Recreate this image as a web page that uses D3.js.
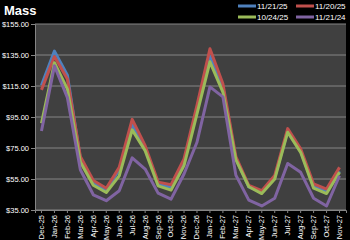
<!DOCTYPE html>
<html>
<head>
<meta charset="utf-8">
<script src="https://cdn.jsdelivr.net/npm/d3@7"></script>
<style>
  html, body { margin: 0; padding: 0; background: #000; }
  svg { display: block; font-family: "Liberation Sans", Arial, sans-serif; }
</style>
</head>
<body>
<div id="chart"></div>
<script>
// ====== Mass price chart ======

const months = ['Dec-25', 'Jan-26', 'Feb-26', 'Mar-26', 'Apr-26', 'May-26', 'Jun-26', 'Jul-26',
  'Aug-26', 'Sep-26', 'Oct-26', 'Nov-26', 'Dec-26', 'Jan-27', 'Feb-27', 'Mar-27', 'Apr-27',
  'May-27', 'Jun-27', 'Jul-27', 'Aug-27', 'Sep-27', 'Oct-27', 'Nov-27'];

const seriesNames = ['11/21/25', '11/20/25', '10/24/25', '11/21/24'];
const seriesColors = ['#4f81bd', '#c0504d', '#9bbb59', '#8064a2'];

const s112125 = [115.5, 137.5, 122, 68, 52.5, 48, 61, 90, 75, 52, 49.5, 66, 100, 134, 114, 68, 50, 46.5, 56, 86, 73, 50, 47, 60];
const s112025 = [112.5, 134, 119.5, 69.5, 54, 49, 62.5, 93.5, 76.5, 53, 51.3, 68, 102.5, 139, 116.5, 69.5, 50.8, 47.5, 57.2, 87.5, 74.5, 51.8, 48.5, 62.5];
const s102425 = [91, 130, 113, 66, 51, 46.3, 57, 86.7, 73.3, 50.6, 47.8, 63.6, 97, 130.6, 111, 67.5, 50, 45.6, 55, 85.2, 72.2, 49.1, 45.6, 59.3];
const s112124 = [86, 128, 107.5, 61, 44.8, 41, 47.4, 68.6, 61.4, 45.9, 42, 58.2, 78.7, 114.4, 108, 57.5, 41.4, 37.6, 42.6, 65, 59.3, 42.6, 37.6, 57.1];

const seriesValues = [s112125, s112025, s102425, s112124];
const yTicks = [35, 55, 75, 95, 115, 135, 155];

const width = 350, height = 240;
const margin = { top: 24, right: 4, bottom: 30, left: 35 };

const svg = d3.select('#chart').append('svg')
  .attr('width', width)
  .attr('height', height);

svg.append('rect')
  .attr('width', width).attr('height', height)
  .attr('fill', '#000');

const x = d3.scaleBand()
  .domain(months)
  .range([margin.left, width - margin.right]);

const y = d3.scaleLinear()
  .domain([35, 155])
  .range([height - margin.bottom, margin.top]);

// plot area
svg.append('rect')
  .attr('x', margin.left).attr('y', margin.top)
  .attr('width', width - margin.left - margin.right)
  .attr('height', height - margin.top - margin.bottom)
  .attr('fill', '#404040');

// gridlines
svg.append('g')
  .selectAll('line')
  .data(yTicks)
  .enter().append('line')
    .attr('x1', margin.left).attr('x2', width - margin.right)
    .attr('y1', d => y(d)).attr('y2', d => y(d))
    .attr('stroke', '#858585')
    .attr('stroke-width', 1);

// y axis
const yAxis = svg.append('g')
  .attr('transform', 'translate(' + margin.left + ',0)')
  .call(d3.axisLeft(y).tickValues(yTicks).tickSize(4).tickFormat(d => '$' + d3.format('.2f')(d)));
yAxis.select('.domain').attr('stroke', '#858585');
yAxis.selectAll('.tick line').attr('stroke', '#858585');
yAxis.selectAll('text')
  .attr('fill', '#fff')
  .attr('font-size', '7.5px')
  .attr('x', -6);

// x axis
const xAxis = svg.append('g')
  .attr('transform', 'translate(0,' + (height - margin.bottom) + ')')
  .call(d3.axisBottom(x).tickSize(3));
xAxis.select('.domain').attr('stroke', '#858585');
xAxis.selectAll('.tick line').attr('stroke', '#858585');
xAxis.selectAll('text')
  .attr('fill', '#fff')
  .attr('font-size', '7.5px')
  .attr('text-anchor', 'end')
  .attr('transform', 'rotate(-90)')
  .attr('x', -5)
  .attr('y', 0)
  .attr('dy', '0.32em');

// lines
const line = d3.line()
  .x((d, i) => x(months[i]) + x.bandwidth() / 2)
  .y(d => y(d));

svg.append('g')
  .selectAll('path')
  .data(seriesValues)
  .enter().append('path')
    .attr('d', line)
    .attr('fill', 'none')
    .attr('stroke', (d, i) => seriesColors[i])
    .attr('stroke-width', 3)
    .attr('stroke-linejoin', 'round');

// title
svg.append('text')
  .attr('x', 4).attr('y', 15)
  .attr('fill', '#fff')
  .attr('font-size', '13px')
  .attr('font-weight', 'bold')
  .text('Mass');

// legend
const legendPos = [[238, 6], [296, 6], [238, 17], [296, 17]];
const legend = svg.append('g')
  .selectAll('g')
  .data(seriesNames)
  .enter().append('g')
    .attr('transform', (d, i) => 'translate(' + legendPos[i][0] + ',' + legendPos[i][1] + ')');

legend.append('line')
  .attr('x1', 0).attr('x2', 18)
  .attr('stroke', (d, i) => seriesColors[i])
  .attr('stroke-width', 3);

legend.append('text')
  .attr('x', 19)
  .attr('dy', '0.35em')
  .attr('fill', '#fff')
  .attr('font-size', '8px')
  .text(d => d);
</script>
</body>
</html>
